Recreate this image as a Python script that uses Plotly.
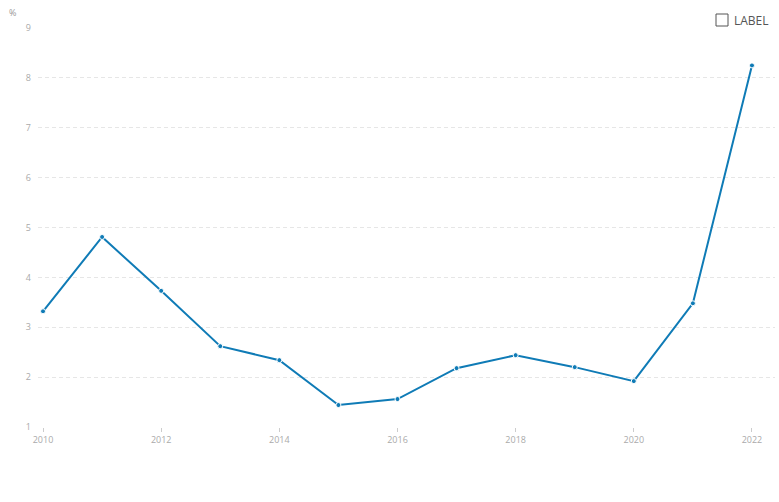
import plotly.graph_objects as go

years = [2010, 2011, 2012, 2013, 2014, 2015, 2016, 2017, 2018, 2019, 2020, 2021, 2022]
values = [3.32, 4.81, 3.73, 2.62, 2.34, 1.44, 1.56, 2.18, 2.44, 2.20, 1.92, 3.48, 8.25]
y_ticks = [1, 2, 3, 4, 5, 6, 7, 8, 9]
x_ticks = [2010, 2012, 2014, 2016, 2018, 2020, 2022]
legend_label = "LABEL"

W, H = 779, 502
ML, MR, MT, MB = 38, 4, 28, 75
PW, PH = W - ML - MR, H - MT - MB

def px(xpix):
    return (xpix - ML) / PW

def py(ypix):
    return (H - MB - ypix) / PH

fig = go.Figure()
fig.add_trace(go.Scatter(
    x=years, y=values, mode="lines+markers",
    line=dict(color="#0f7bb6", width=2),
    marker=dict(size=5, color="#0f7bb6", line=dict(color="white", width=1)),
    showlegend=False,
))

fig.update_layout(
    width=W, height=H,
    margin=dict(l=ML, r=MR, t=MT, b=MB),
    paper_bgcolor="white", plot_bgcolor="white",
    font=dict(family="Open Sans", color="#aaaaaa", size=9),
    showlegend=False,
    xaxis=dict(range=[2009.915, 2022.39], tickvals=x_ticks, showgrid=False,
               zeroline=False, showline=False, ticks="outside", ticklen=4,
               tickcolor="#cccccc", tickfont=dict(size=9, color="#aaaaaa")),
    yaxis=dict(range=[1, 9], tickvals=y_ticks, showgrid=True, gridcolor="#e6e6e6",
               griddash="4px,3px", gridwidth=1, zeroline=False, showline=False,
               ticks="", ticklabelstandoff=6, tickfont=dict(size=9, color="#aaaaaa")),
    annotations=[
        dict(text="%", xref="paper", yref="paper", x=px(7), y=py(13),
             xanchor="left", yanchor="middle", showarrow=False,
             font=dict(size=9, color="#999999")),
        dict(text=legend_label, xref="paper", yref="paper", x=px(732), y=py(20),
             xanchor="left", yanchor="middle", showarrow=False,
             font=dict(size=12, color="#555555")),
    ],
    shapes=[dict(type="rect", xref="paper", yref="paper",
                 x0=px(716), x1=px(728), y0=py(26), y1=py(14),
                 line=dict(color="#555555", width=1), fillcolor="white")],
)

fig.write_html("out.html", config={"displayModeBar": False},
               post_script="document.body.style.margin='0';")
